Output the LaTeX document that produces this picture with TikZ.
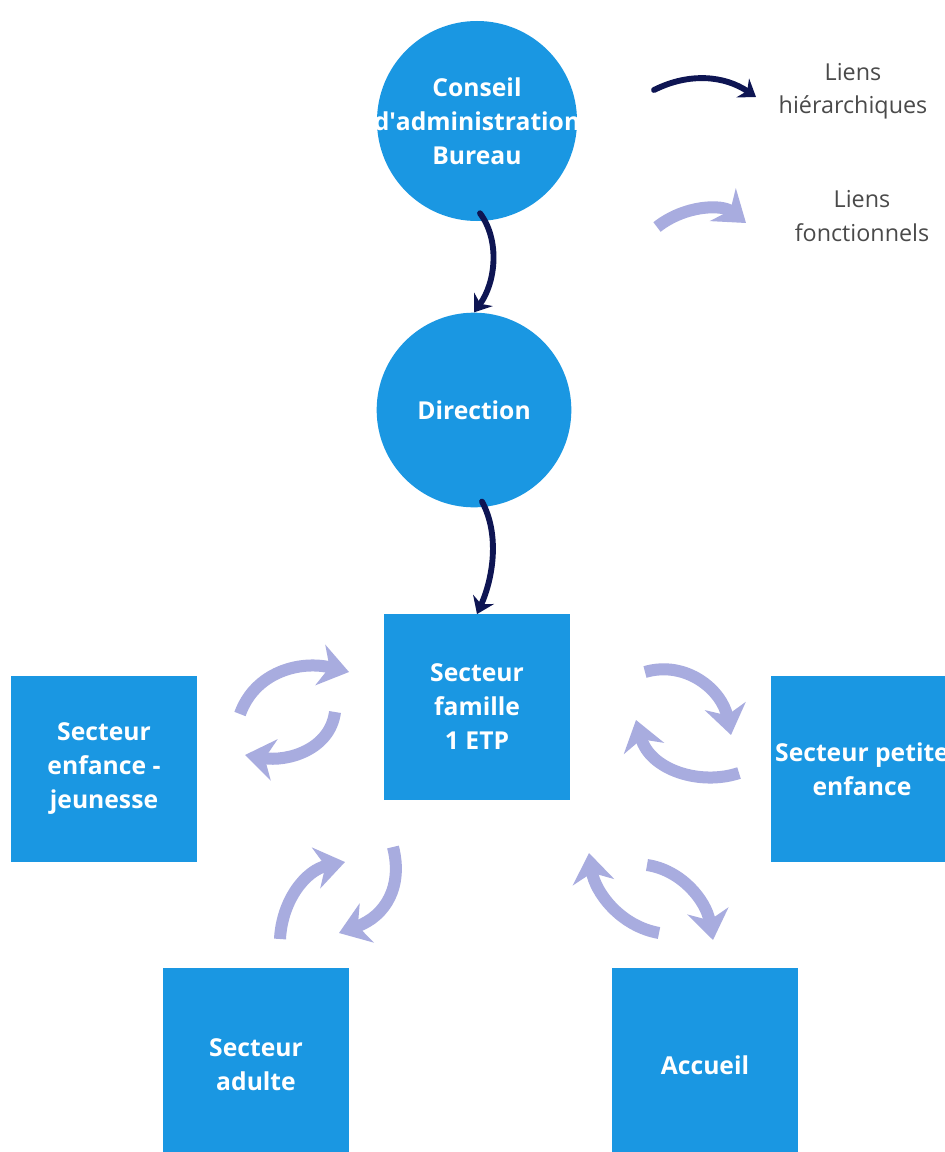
\documentclass[tikz,border=0pt]{standalone}
\usepackage{fontspec}
\setsansfont{Open Sans}
\usetikzlibrary{arrows.meta, positioning}
\definecolor{bleu}{HTML}{1A97E2}
\definecolor{navy}{HTML}{0E1553}
\definecolor{lavande}{HTML}{A8ACDF}
\definecolor{gris}{HTML}{4A4A4A}

\begin{document}
\begin{tikzpicture}[x=0.75pt, y=-0.75pt, >=Stealth,
    hier/.style={draw=navy, line width=4.4pt, line cap=round, -{Stealth[length=12pt, width=17pt, inset=4pt]}},
    fonct/.style={draw=lavande, line width=9pt, -{Stealth[length=22pt, width=31pt, inset=7pt]}}]
    % Define styles for circles, boxes and texts
    \tikzstyle{circ} = [circle, fill=bleu, inner sep=0pt, minimum size=150pt]
    \tikzstyle{bloc} = [rectangle, fill=bleu, inner sep=0pt, minimum width=140pt, minimum height=139pt]
    \tikzstyle{txt} = [text=white, align=center, font=\sffamily\bfseries\fontsize{18.5}{25.5}\selectfont]
    \tikzstyle{legende} = [text=gris, align=center, font=\sffamily\fontsize{17.5}{25}\selectfont]

    \fill[white] (0,0) rectangle (945,1152);
    \useasboundingbox (0,0) rectangle (945,1152);

    % Nodes placement
    \node [circ] (conseil) at (477,121) {};
    \node [txt] (conseiltxt) at (conseil) {Conseil\\d\textquotesingle administration\\Bureau};
    \node [circ, minimum size=146pt] (direction) at (474,410) {};
    \node [txt] (directiontxt) at (direction) {Direction};
    \node [bloc] (famille) at (477,707) {};
    \node [txt] (familletxt) at (famille) {Secteur\\famille\\1 ETP};
    \node [bloc] (enfance) at (104,769) {};
    \node [txt] (enfancetxt) at (enfance) {Secteur\\enfance -\\jeunesse};
    \node [bloc] (petite) at (864,769) {};
    \node [txt] (petitetxt) at (862,769) {Secteur petite\\enfance};
    \node [bloc] (adulte) at (256,1061) {};
    \node [txt] (adultetxt) at (256,1065) {Secteur\\adulte};
    \node [bloc] (accueil) at (705,1061) {};
    \node [txt] (accueiltxt) at (705,1065) {Accueil};

    % Legend
    \node [legende] (hierleg) at (853,91) {Liens\\hiérarchiques};
    \node [legende] (foncleg) at (862,216) {Liens\\fonctionnels};
    \coordinate (h1) at (654,90);
    \coordinate (h2) at (756,97);
    \coordinate (f1) at (657,227);
    \coordinate (f2) at (746,223);
    \draw[hier] (h1) .. controls (690,72) and (725,76) .. (h2);
    \draw[fonct] (f1) .. controls (685,205) and (722,204) .. (f2);

    % Hierarchical links
    \draw[hier] (conseil.south) ++(3,-8) .. controls (500,240) and (496,282) .. (direction.north);
    \draw[hier] (direction.south) ++(8,-6) .. controls (500,535) and (493,578) .. (famille.north);

    % Functional links
    \draw[fonct] (240,714) .. controls (255,672) and (300,660) .. (349,672);
    \draw[fonct] (335,712) .. controls (330,750) and (287,762) .. (245,755);
    \draw[fonct] (645,672) .. controls (686,660) and (722,690) .. (731,735);
    \draw[fonct] (739,773) .. controls (700,786) and (650,770) .. (636,720);
    \draw[fonct] (280,939) .. controls (282,900) and (306,870) .. (345,862);
    \draw[fonct] (393,847) .. controls (403,886) and (386,916) .. (339,933);
    \draw[fonct] (659,933) .. controls (620,926) and (595,892) .. (589,853);
    \draw[fonct] (647,865) .. controls (681,870) and (706,900) .. (713,940);
\end{tikzpicture}
\end{document}
